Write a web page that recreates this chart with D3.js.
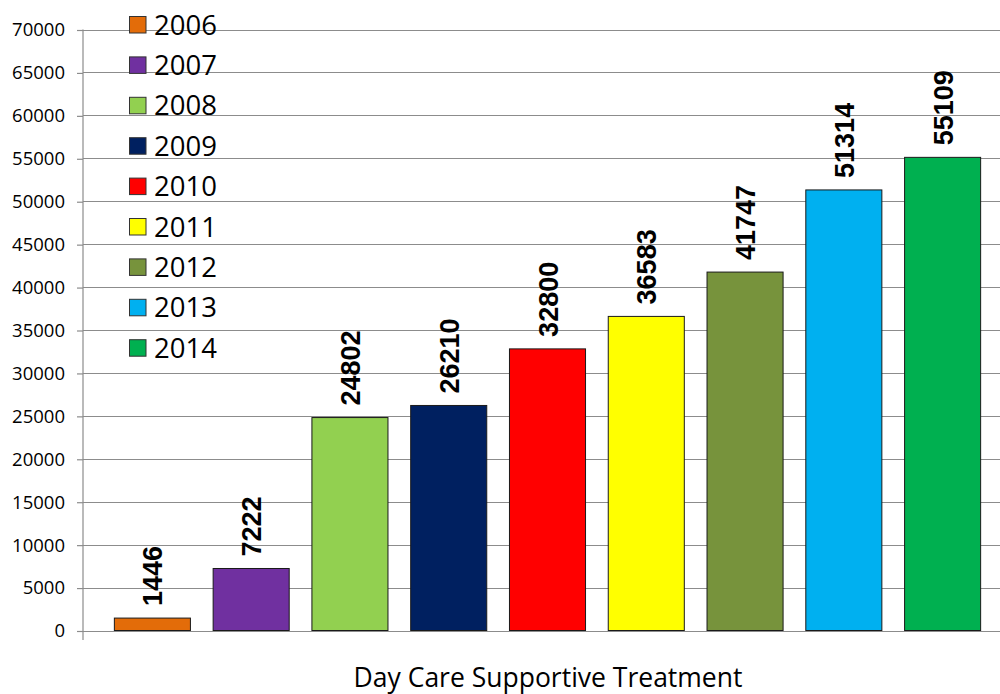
<!DOCTYPE html>
<html><head><meta charset="utf-8">
<script src="https://cdn.jsdelivr.net/npm/d3@7"></script>
<style>body{margin:0;background:#fff}svg{display:block}</style>
</head><body>
<svg id="c" width="1000" height="694"></svg>
<script>
const years = ["2006","2007","2008","2009","2010","2011","2012","2013","2014"];
const values = [1446, 7222, 24802, 26210, 32800, 36583, 41747, 51314, 55109];
const colors = ["#E36C09","#7030A0","#92D050","#002060","#FF0000","#FFFF00","#77933C","#00B0F0","#00B050"];
const yTicks = [0,5000,10000,15000,20000,25000,30000,35000,40000,45000,50000,55000,60000,65000,70000];
const categoryLabel = "Day Care Supportive Treatment";

const svg = d3.select("#c");
const y = d3.scaleLinear().domain([0,70000]).range([630.5,29.5]);
const x = d3.scaleBand().domain(years).range([103,992]).paddingInner(0.23).paddingOuter(0.115);
const axisX = 83;

// gridlines
svg.append("g").selectAll("line").data(yTicks).join("line")
  .attr("x1", axisX).attr("x2", 1000)
  .attr("y1", d=>Math.round(y(d))+0.5).attr("y2", d=>Math.round(y(d))+0.5)
  .attr("stroke", "#8c8c8c").attr("stroke-width", 1.2);

// y axis
const yAxis = d3.axisLeft(y).tickValues(yTicks).tickSize(6).tickPadding(12).tickFormat(d3.format("d"));
const gy = svg.append("g").attr("transform", `translate(${axisX},0.5)`).call(yAxis);
gy.select(".domain").remove();
gy.selectAll(".tick line").attr("stroke", "#8c8c8c").attr("stroke-width", 1.2);
gy.selectAll("text").attr("font-family", "'Open Sans', sans-serif").attr("font-size", 18.5).attr("fill", "#000");
svg.append("line").attr("x1", axisX).attr("x2", axisX).attr("y1", y(70000)).attr("y2", 640)
  .attr("stroke", "#8c8c8c").attr("stroke-width", 1.2);

// bars
svg.append("g").selectAll("rect").data(years).join("rect")
  .attr("x", d=>x(d)).attr("width", x.bandwidth())
  .attr("y", (d,i)=>y(values[i])).attr("height", (d,i)=>y(0)-y(values[i]))
  .attr("fill", (d,i)=>colors[i]).attr("stroke", "#1a1a1a").attr("stroke-width", 1);

// value labels
svg.append("g").selectAll("text").data(years).join("text")
  .attr("transform", (d,i)=>`translate(${x(d)+x.bandwidth()/2+10},${y(values[i])-12}) rotate(-90)`)
  .attr("text-anchor", "start")
  .attr("font-family", "'Liberation Sans', Arial, sans-serif").attr("font-weight", "bold").attr("font-size", 27)
  .text((d,i)=>values[i]);

// legend
const lg = svg.append("g");
years.forEach((yr,i)=>{
  const cy = 25 + i*40.4;
  lg.append("rect").attr("x", 129.5).attr("y", cy-8.5).attr("width", 16.5).attr("height", 16.5)
    .attr("fill", colors[i]).attr("stroke", "#333").attr("stroke-width", 1);
  lg.append("text").attr("x", 154).attr("y", cy+9.5)
    .attr("font-family", "'Open Sans', sans-serif").attr("font-size", 27.5).attr("fill", "#000").text(yr);
});

// category label
svg.append("text").attr("x", 548).attr("y", 687).attr("text-anchor", "middle")
  .attr("font-family", "'Open Sans', sans-serif").attr("font-size", 26.5).attr("fill", "#000").text(categoryLabel);
</script>
</body></html>
